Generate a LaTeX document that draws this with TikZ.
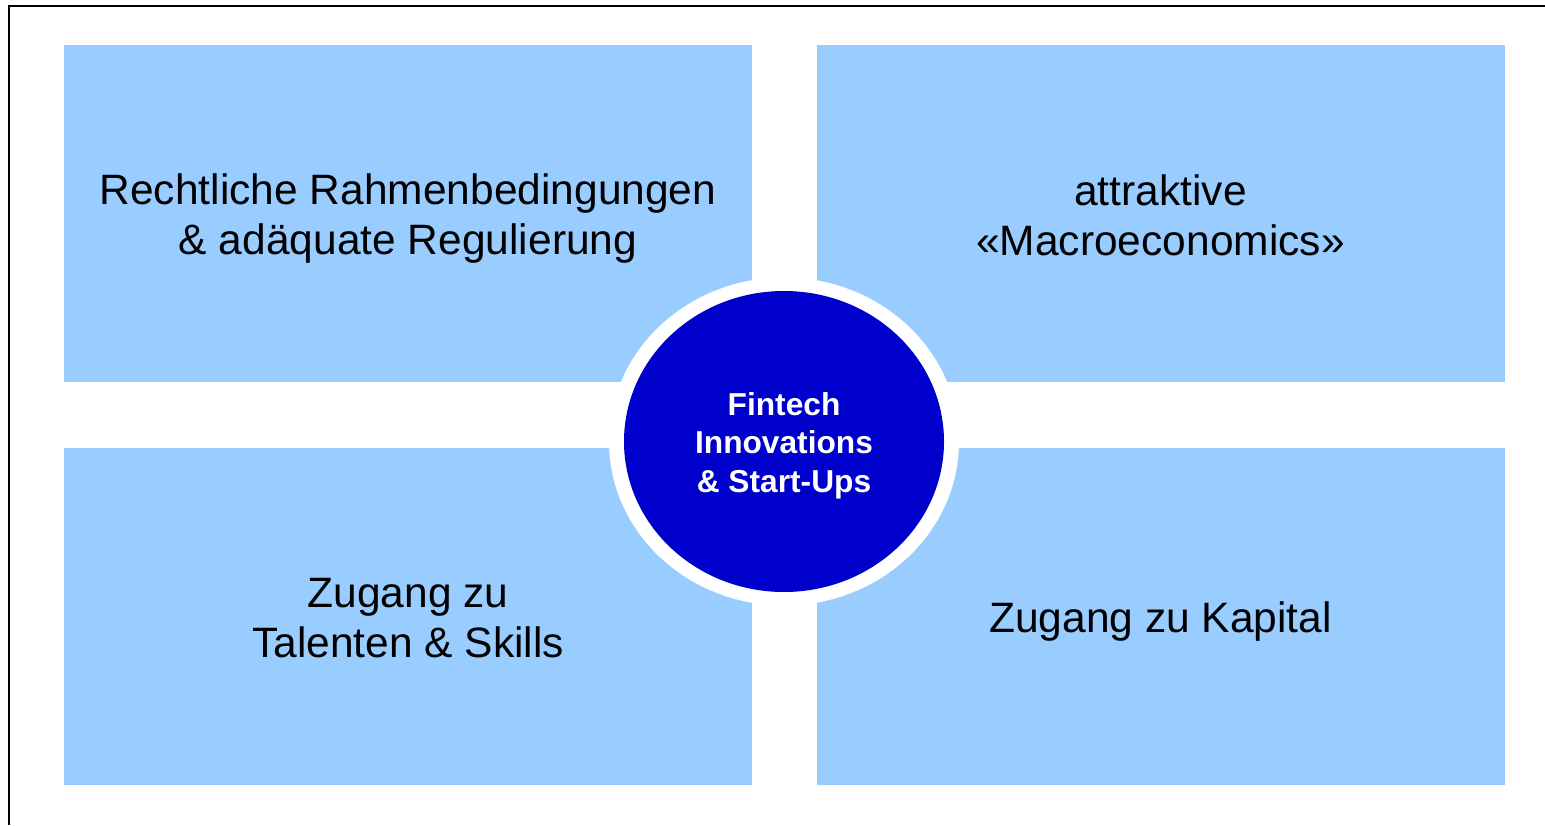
\documentclass[tikz,border=0pt]{standalone}
\usepackage{fontspec}
\setmainfont{Liberation Sans}
\usepackage{tikz}
\usetikzlibrary{shapes.geometric}

\definecolor{hellblau}{HTML}{99CCFF}
\definecolor{dunkelblau}{HTML}{0000CC}

\begin{document}
\begin{tikzpicture}[x=1pt,y=-1pt,
   feld/.style={fill=hellblau,draw=none,minimum width=688pt,minimum height=337pt,inner sep=0pt},
   feldtext/.style={align=center,inner sep=0pt,font=\fontsize{42.5}{50}\selectfont},
   ring/.style={fill=white,draw=none,ellipse,minimum width=350pt,minimum height=328pt},
   kern/.style={fill=dunkelblau,draw=none,ellipse,minimum width=320pt,minimum height=301pt,inner sep=0pt},
   kerntext/.style={text=white,align=center,inner sep=0pt,font=\fontsize{31.7}{38.5}\selectfont\bfseries}]
   \useasboundingbox (0,0) rectangle (1545,825);
   \draw[line width=2pt] (1545,6) -- (9,6) -- (9,825);

   \node[feld](recht) at (408,213.5) {};
   \node[feld](macro) at (1160.5,213.5) {};
   \node[feld](talente) at (408,616.5) {};
   \node[feld](kapital) at (1160.5,616.5) {};
   \node[feldtext](rechttext) at ([yshift=-5pt]recht.center) {Rechtliche Rahmenbedingungen\\ \& adäquate Regulierung};
   \node[feldtext](macrotext) at ([yshift=-1.5pt]macro.center) {attraktive\\ «Macroeconomics»};
   \node[feldtext](talentetext) at ([yshift=-2pt]talente.center) {Zugang zu\\ Talenten \& Skills};
   \node[feldtext](kapitaltext) at ([yshift=-5pt]kapital.center) {Zugang zu Kapital};

   \node[ring](weiss) at (784,441.5) {};
   \node[kern](fintech) at (weiss.center) {};
   \node[kerntext](fintechtext) at ([yshift=-4pt]fintech.center) {Fintech\\ Innovations\\ \& Start-Ups};
\end{tikzpicture}
\end{document}
